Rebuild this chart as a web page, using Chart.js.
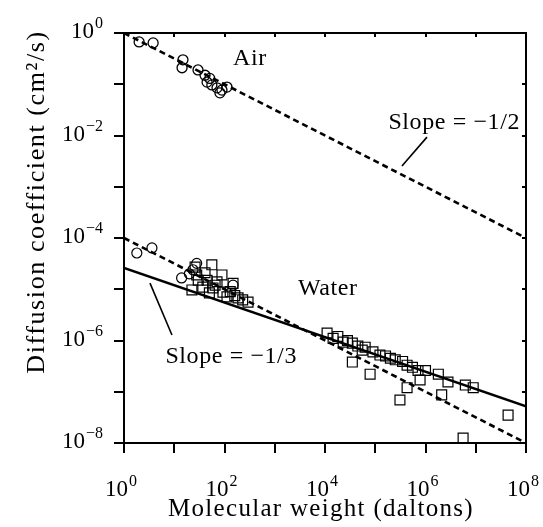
<!DOCTYPE html>
<html>
<head>
<meta charset="utf-8">
<script src="https://cdn.jsdelivr.net/npm/chart.js@4.4.0/dist/chart.umd.min.js"></script>
<style>
  html, body { margin: 0; padding: 0; background: #fff; }
</style>
</head>
<body>
<canvas id="diffCanvas" width="543" height="527"></canvas>
<script>
// molecular weight (daltons) and diffusion coefficient (cm^2/s)
const airMW = [2.0, 3.8, 14.9, 14.3, 29.7, 41, 45, 51, 56, 71, 89, 112, 81];
const airD = [0.67, 0.64, 0.30, 0.21, 0.19, 0.15, 0.11, 0.13, 0.097, 0.085, 0.077, 0.088, 0.068];

const waterCircMW = [1.8, 3.6, 14, 23.6, 28, 20, 148];
const waterCircD = [5.1e-5, 6.4e-5, 1.66e-5, 2.4e-5, 3.2e-5, 2.0e-5, 1.2e-5];

const waterSqMW = [26, 56, 89, 148, 294, 30, 37, 22.5, 59, 93, 112, 186, 71, 41, 28, 45, 50, 130, 65, 160, 230,
    1.1e4, 1.45e4, 2.3e4, 3.5e4, 3.5e4, 6.3e4, 7.9e4, 1.24e5, 2.5e5, 4.3e5, 7.1e5, 3.1e5, 4.3e5, 7.8e5,
    2.8e6, 2.1e6, 6.2e6, 8.9e6, 5.6e6, 4.4e7, 1.8e4, 2.8e4, 4.5e4, 5.5e4, 9e4, 1.6e5, 2e5, 3.5e5, 5.5e5, 1e6, 1.8e6];
const waterSqD = [2.7e-5, 3.0e-5, 1.9e-5, 1.3e-5, 5.6e-6, 1.5e-5, 1.1e-5, 9.7e-6, 1.06e-5, 8.8e-6, 7.1e-6, 6.8e-6, 1.4e-5, 2.1e-5, 1.9e-5, 1.5e-5, 8.5e-6, 9e-6, 1.2e-5, 7.5e-6, 6.2e-6,
    1.4e-6, 1.1e-6, 9.3e-7, 8.9e-7, 3.8e-7, 7.4e-7, 2.2e-7, 5.2e-7, 4.2e-7, 3.3e-7, 2.6e-7, 6.9e-8, 1.2e-7, 1.7e-7,
    1.55e-7, 8.7e-8, 1.35e-7, 1.2e-7, 1.25e-8, 3.5e-8, 1.2e-6, 1.0e-6, 7.8e-7, 6.5e-7, 6e-7, 5e-7, 4.5e-7, 3.9e-7, 3e-7, 2.6e-7, 2.2e-7];

// fitted lines, end points
const fitMW = [1, 1e8];
const airFitD = [1, 1e-4];          // slope -1/2
const waterHalfFitD = [1e-4, 1e-8]; // slope -1/2
const waterThirdFitD = [2.6e-5, 5.2e-8]; // slope -1/3

// tick labels (powers of ten)
const xTickExps = [0, 2, 4, 6, 8];
const yTickExps = [0, -2, -4, -6, -8];
const xMajorExps = [0, 1, 2, 3, 4, 5, 6, 7, 8];
const yMajorExps = [0, -1, -2, -3, -4, -5, -6, -7, -8];

const FONT = '"Liberation Serif", "Times New Roman", serif';

const pts = (xs, ys) => xs.map((x, i) => ({ x: x, y: ys[i] }));

// text notes placed in data space
const notes = [
    { text: 'Air', x: 321, y: 0.238, align: 'center' },
    { text: 'Slope = \u22121/2', x: 7.6e7, y: 0.0134, align: 'right' },
    { text: 'Water', x: 2900, y: 7.7e-6, align: 'left' },
    { text: 'Slope = \u22121/3', x: 2770, y: 3.6e-7, align: 'right' }
];
const pointers = [
    { from: [1.07e6, 9.3e-3], to: [3.4e5, 2.54e-3] },
    { from: [3.29, 1.32e-5], to: [9.0, 1.28e-6] }
];

function drawPow(ctx, exp, x, baseline, align) {
    const sup = exp < 0 ? '\u2212' + (-exp) : String(exp);
    ctx.font = '23px ' + FONT;
    const w1 = ctx.measureText('10').width;
    ctx.font = '16px ' + FONT;
    const w2 = ctx.measureText(sup).width;
    let start = align === 'right' ? x - w1 - w2 - 1 : x - (w1 + w2 + 1) / 2;
    ctx.textAlign = 'left';
    ctx.textBaseline = 'alphabetic';
    ctx.font = '23px ' + FONT;
    ctx.fillText('10', start, baseline);
    ctx.font = '16px ' + FONT;
    ctx.fillText(sup, start + w1 + 1, baseline - 10);
}

const decorPlugin = {
    id: 'decor',
    afterDraw(chart) {
        const ctx = chart.ctx;
        const xs = chart.scales.x, ys = chart.scales.y;
        const area = chart.chartArea;
        ctx.save();
        ctx.fillStyle = '#000';
        ctx.strokeStyle = '#000';

        // tick labels
        xTickExps.forEach(e => drawPow(ctx, e, xs.getPixelForValue(Math.pow(10, e)) - 3, area.bottom + 53, 'center'));
        yTickExps.forEach(e => drawPow(ctx, e, area.left - 21, ys.getPixelForValue(Math.pow(10, e)) + 5, 'right'));

        // axis titles
        ctx.textAlign = 'center';
        ctx.textBaseline = 'alphabetic';
        ctx.font = '25px ' + FONT;
        ctx.letterSpacing = '1.3px';
        ctx.fillText('Molecular weight (daltons)', (area.left + area.right) / 2 - 4, area.bottom + 73);
        ctx.save();
        ctx.font = '26px ' + FONT;
        ctx.letterSpacing = '1.6px';
        ctx.translate(area.left - 80, (area.top + area.bottom) / 2 - 36);
        ctx.rotate(-Math.PI / 2);
        ctx.fillText('Diffusion coefficient (cm\u00b2/s)', 0, 0);
        ctx.restore();

        // notes
        ctx.font = '24px ' + FONT;
        ctx.letterSpacing = '0.6px';
        notes.forEach(n => {
            ctx.textAlign = n.align;
            ctx.fillText(n.text, xs.getPixelForValue(n.x), ys.getPixelForValue(n.y));
        });
        ctx.letterSpacing = '0px';

        ctx.lineWidth = 1.6;
        pointers.forEach(p => {
            ctx.beginPath();
            ctx.moveTo(xs.getPixelForValue(p.from[0]), ys.getPixelForValue(p.from[1]));
            ctx.lineTo(xs.getPixelForValue(p.to[0]), ys.getPixelForValue(p.to[1]));
            ctx.stroke();
        });
        ctx.restore();
    }
};

const decades = exps => scale => { scale.ticks = exps.map(e => ({ value: Math.pow(10, e) })); };

function axis(pos, min, max, exps, size, tickLen) {
    const horiz = pos === 'bottom' || pos === 'top';
    return {
        type: 'logarithmic',
        position: pos,
        min: min,
        max: max,
        afterBuildTicks: decades(exps),
        afterFit: s => { if (horiz) s.height = size; else s.width = size; },
        ticks: { display: false },
        grid: { drawOnChartArea: false, drawTicks: true, tickLength: tickLen, color: '#000', lineWidth: 2 },
        border: { display: true, color: '#000', width: 2 }
    };
}

const ctx = document.getElementById('diffCanvas').getContext('2d');

new Chart(ctx, {
    type: 'scatter',
    data: {
        datasets: [
            {
                label: 'Air fit',
                type: 'line',
                data: pts(fitMW, airFitD),
                borderColor: '#000', borderWidth: 2.6, borderDash: [6, 4],
                pointRadius: 0, fill: false
            },
            {
                label: 'Water fit -1/2',
                type: 'line',
                data: pts(fitMW, waterHalfFitD),
                borderColor: '#000', borderWidth: 2.6, borderDash: [6, 4],
                pointRadius: 0, fill: false
            },
            {
                label: 'Water fit -1/3',
                type: 'line',
                data: pts(fitMW, waterThirdFitD),
                borderColor: '#000', borderWidth: 2.4,
                pointRadius: 0, fill: false
            },
            {
                label: 'Air',
                data: pts(airMW, airD),
                pointStyle: 'circle', pointRadius: 5,
                borderColor: '#000', borderWidth: 1.3, backgroundColor: 'rgba(0,0,0,0)'
            },
            {
                label: 'Water (circles)',
                data: pts(waterCircMW, waterCircD),
                pointStyle: 'circle', pointRadius: 5,
                borderColor: '#000', borderWidth: 1.2, backgroundColor: 'rgba(0,0,0,0)'
            },
            {
                label: 'Water (squares)',
                data: pts(waterSqMW, waterSqD),
                pointStyle: 'rect', pointRadius: 7,
                borderColor: '#000', borderWidth: 1.2, backgroundColor: 'rgba(0,0,0,0)'
            }
        ]
    },
    options: {
        responsive: false,
        animation: false,
        layout: { padding: { top: 33, right: 17, left: 0, bottom: 0 } },
        plugins: {
            legend: { display: false },
            tooltip: { enabled: false }
        },
        scales: {
            x: axis('bottom', 1, 1e8, xMajorExps, 84, 10),
            y: axis('left', 1e-8, 1, yMajorExps, 124, 10),
            x2: axis('top', 1, 1e8, xMajorExps, 0, -4),
            y2: axis('right', 1e-8, 1, yMajorExps, 0, -4)
        }
    },
    plugins: [decorPlugin]
});
</script>
</body>
</html>
